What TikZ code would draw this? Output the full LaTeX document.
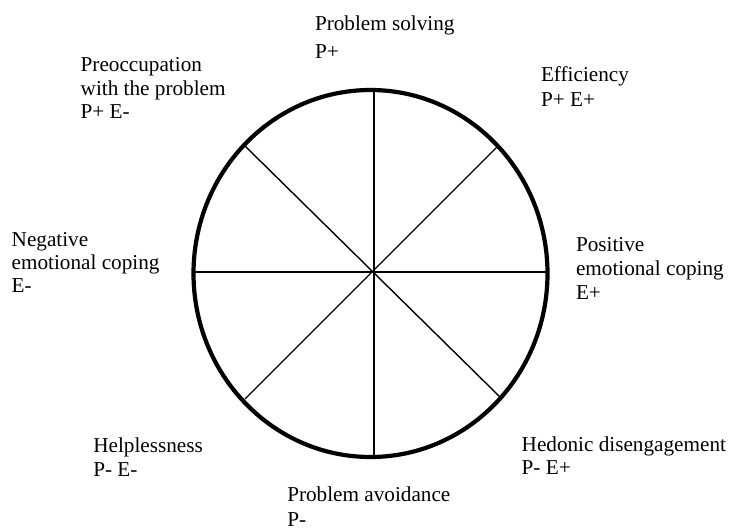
\documentclass[tikz,border=0pt]{standalone}
\usepackage{fontspec}
\setmainfont{Liberation Serif}
\newcommand\lbltab[2]{\fontsize{21.2}{#1}\selectfont\begin{tabular}[t]{@{}l@{}}#2\end{tabular}}
\tikzset{
  lbl/.style={anchor=base west, inner sep=0pt, outer sep=0pt},
  rim/.style={line width=4.2pt},
  spoke/.style={line width=1.4pt}
}
\begin{document}
\begin{tikzpicture}[x=1pt,y=-1pt]
\useasboundingbox[fill=white] (0,0) rectangle (729,530);
% wheel
\coordinate (c) at (372,272);
\coordinate (n) at (374,90);
\coordinate (s) at (374,457);
\coordinate (w) at (194,272);
\coordinate (e) at (547,272);
\coordinate (nw) at (245,146);
\coordinate (ne) at (497,147);
\coordinate (sw) at (245,399);
\coordinate (se) at (500,397);
\draw[spoke] (n) -- (s);
\draw[spoke] (w) -- (e);
\draw[spoke] (nw) -- (se);
\draw[spoke] (ne) -- (sw);
\draw[rim] (370.5,273.5) ellipse [x radius=177, y radius=183.5];
% labels
\node[lbl] (ps) at (315,30.7) {\lbltab{28}{Problem solving\\P+}};
\node[lbl] (pre) at (80.7,71.7) {\lbltab{23.3}{Preoccupation\\with the problem\\P+ E-}};
\node[lbl] (eff) at (541,81.7) {\lbltab{24.3}{Efficiency\\P+ E+}};
\node[lbl] (neg) at (11.7,246) {\lbltab{23.3}{Negative\\emotional coping\\E-}};
\node[lbl] (pos) at (576,251.7) {\lbltab{24}{Positive\\emotional coping\\E+}};
\node[lbl] (help) at (93.3,452) {\lbltab{24}{Helplessness\\P- E-}};
\node[lbl] (hed) at (521.7,451.7) {\lbltab{22.5}{Hedonic disengagement\\P- E+}};
\node[lbl] (pa) at (287.3,501) {\lbltab{25}{Problem avoidance\\P-}};
\end{tikzpicture}
\end{document}
